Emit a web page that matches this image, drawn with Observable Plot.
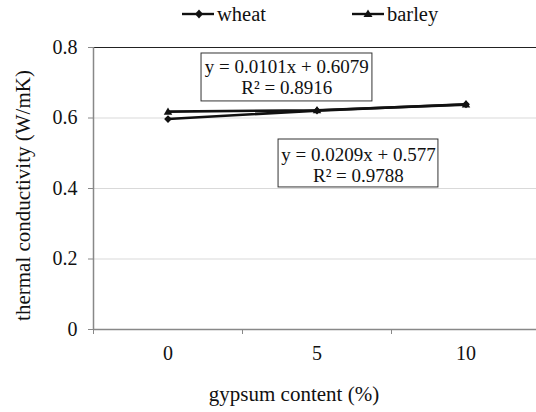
<!DOCTYPE html>
<html>
<head>
<meta charset="utf-8">
<script src="https://cdn.jsdelivr.net/npm/d3@7"></script>
<script src="https://cdn.jsdelivr.net/npm/@observablehq/plot@0.6"></script>
<style>
  html, body { margin: 0; padding: 0; background: #fff; }
  body { width: 536px; height: 412px; overflow: hidden; font-family: "Liberation Serif", "Times New Roman", Times, serif; }
  #legend { position: relative; height: 28px; font-size: 20.5px; color: #111; }
  .item { position: absolute; top: 0; height: 28px; display: flex; align-items: center; }
  .item svg { margin-right: 3px; }
  svg text { font-family: "Liberation Serif", "Times New Roman", Times, serif; }
</style>
</head>
<body>
<div id="legend"></div>
<div id="chart"></div>
<script>
// ---- data ----
const categories = ["0", "5", "10"];
const wheat = [0.597, 0.621, 0.639];
const barley = [0.618, 0.622, 0.638];
const yTicks = [0, 0.2, 0.4, 0.6, 0.8];
const yTickLabels = ["0", "0.2", "0.4", "0.6", "0.8"];
const xLabel = "gypsum content (%)";
const yLabel = "thermal conductivity (W/mK)";
// trendline annotations (anchored in data space: x = category index, y = value)
const eqBarley = ["y = 0.0101x + 0.6079", "R² = 0.8916"];
const eqWheat = ["y = 0.0209x + 0.577", "R² = 0.9788"];

const rows = [];
categories.forEach((c, i) => {
  rows.push({series: "wheat", i, value: wheat[i]});
  rows.push({series: "barley", i, value: barley[i]});
});

const annBoxes = [
  {x1: 0.225, x2: 1.372, y1: 0.647, y2: 0.783},
  {x1: 0.742, x2: 1.815, y1: 0.403, y2: 0.539}
];
const annText = [
  {x: 0.797, y: 0.744, text: eqBarley[0]},
  {x: 0.797, y: 0.684, text: eqBarley[1]},
  {x: 1.278, y: 0.494, text: eqWheat[0]},
  {x: 1.278, y: 0.437, text: eqWheat[1]}
];

const font = "'Liberation Serif', 'Times New Roman', Times, serif";
const topOff = 28;

const diamond = {draw(ctx, size) { const s = Math.sqrt(size) * 0.55; ctx.moveTo(0, -s); ctx.lineTo(s, 0); ctx.lineTo(0, s); ctx.lineTo(-s, 0); ctx.closePath(); }};
const triangle = {draw(ctx, size) { const s = Math.sqrt(size) * 0.6; ctx.moveTo(0, -s); ctx.lineTo(s, s * 0.7); ctx.lineTo(-s, s * 0.7); ctx.closePath(); }};

const chart = Plot.plot({
  width: 536,
  height: 412 - topOff,
  marginLeft: 93,
  marginRight: 0,
  marginTop: 47 - topOff,
  marginBottom: 412 - 329,
  style: {fontFamily: font, fontSize: "20px", color: "#111", background: "#fff"},
  x: {domain: [-0.5, 2.5], range: [93, 540]},
  y: {domain: [0, 0.8], range: [329 - topOff, 47 - topOff]},
  symbol: {domain: ["wheat", "barley"], range: [diamond, triangle]},
  marks: [
    Plot.ruleY([0.2, 0.4, 0.6], {stroke: "#d9d9d9", strokeWidth: 1}),
    Plot.ruleY([0.8], {stroke: "#222", strokeWidth: 1}),
    Plot.ruleY([0], {stroke: "#888", strokeWidth: 1.5}),
    Plot.ruleX([-0.5], {y1: 0, y2: 0.8, stroke: "#888", strokeWidth: 1.5}),
    Plot.axisY({ticks: yTicks, tickFormat: d => yTickLabels[yTicks.indexOf(d)], tickSize: 5, tickPadding: 11, stroke: "#888", label: null, fontSize: 20}),
    Plot.axisX({ticks: [-0.5, 0.5, 1.5], tickFormat: () => "", tickSize: 5, stroke: "#888", label: null}),
    Plot.axisX({ticks: [0, 1, 2], tickFormat: d => categories[d], tickSize: 0, tickPadding: 16, label: null, fontSize: 20}),
    Plot.text([xLabel], {frameAnchor: "bottom", dy: 71, dx: -21, fontSize: 21}),
    Plot.text([yLabel], {frameAnchor: "left", dx: -70, dy: 7, rotate: -90, fontSize: 21, textAnchor: "middle"}),
    Plot.line(rows, {x: "i", y: "value", z: "series", stroke: "#111", strokeWidth: 2.6}),
    Plot.dot(rows, {x: "i", y: "value", symbol: "series", r: 4, fill: "#111", stroke: "none"}),
    Plot.rect(annBoxes, {x1: "x1", x2: "x2", y1: "y1", y2: "y2", fill: "#fff", stroke: "#333", strokeWidth: 1}),
    Plot.text(annText, {x: "x", y: "y", text: "text", fontSize: 19, fill: "#111"})
  ]
});
document.getElementById("chart").appendChild(chart);

// legend
const legend = document.getElementById("legend");
const items = [
  {name: "wheat", left: 182, shape: "M17,9.5 L21,14 L17,18.5 L13,14 Z"},
  {name: "barley", left: 352, shape: "M16,9.5 L20.5,17 L11.5,17 Z"}
];
items.forEach(it => {
  const div = document.createElement("div");
  div.className = "item";
  div.style.left = it.left + "px";
  div.innerHTML = `<svg width="32" height="28"><line x1="0" y1="14" x2="32" y2="14" stroke="#111" stroke-width="2.4"/><path d="${it.shape}" fill="#111"/></svg><span>${it.name}</span>`;
  legend.appendChild(div);
});
</script>
</body>
</html>
